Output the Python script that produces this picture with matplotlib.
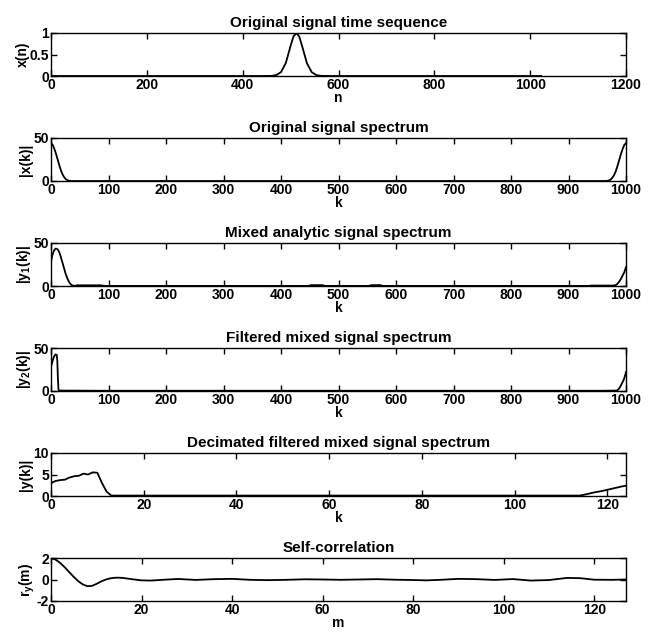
import matplotlib
matplotlib.use("Agg")
import matplotlib.pyplot as plt
from matplotlib import font_manager

names = {f.name for f in font_manager.fontManager.ttflist}
fam = 'Liberation Sans Narrow' if 'Liberation Sans Narrow' in names else 'Liberation Sans'
narrow = fam == 'Liberation Sans Narrow'
plt.rcParams['font.family'] = [fam, 'DejaVu Sans']
plt.rcParams['font.weight'] = 'bold'
plt.rcParams['axes.labelweight'] = 'bold'
plt.rcParams['axes.titleweight'] = 'bold'

# ---- data ----
n1 = [0, 440, 460, 470, 480, 490, 500, 506, 512, 518, 524, 534, 544, 554, 564, 584, 1023]
x1 = [0, 0, 0.003, 0.02, 0.09, 0.30, 0.70, 0.92, 1.0, 0.92, 0.70, 0.30, 0.09, 0.02, 0.003, 0, 0]

k2 = [0, 3, 6, 9, 12, 15, 18, 21, 24, 27, 30, 35, 40,
      960, 965, 970, 973, 976, 979, 982, 985, 988, 991, 994, 997, 1000]
x2 = [44, 42, 37, 31, 24, 17, 11, 6.5, 3.5, 1.5, 0.5, 0, 0,
      0, 0, 0.5, 1.5, 3.5, 6.5, 11, 17, 24, 31, 37, 42, 44]

k3 = [0, 2, 5, 8, 11, 14, 17, 20, 23, 26, 29, 32, 35, 38, 42, 45, 88, 92,
      448, 452, 472, 476, 553, 557, 573, 577, 935, 940, 978, 982, 985, 988, 991, 994, 997, 1000]
y3 = [28, 35, 41, 43.5, 43, 40, 34, 27, 20, 13, 8, 4, 1.5, 0.5, 0.2, 0.8, 0.8, 0.1,
      0.1, 1.0, 1.0, 0.1, 0.1, 1.0, 1.0, 0.1, 0.1, 0.5, 0.5, 1.0, 2.5, 5, 8, 12, 16, 22]

k4 = [0, 2, 4, 6, 8, 10, 11, 12, 13, 14, 80, 960, 984, 987, 990, 993, 996, 998, 1000]
y4 = [28, 33, 38, 41, 42.5, 42, 35, 15, 2, 0.5, 0.3, 0.3, 0.5, 2, 5, 9, 13, 17, 22]

k5 = [0, 1, 2, 3, 4, 5, 6, 7, 8, 9, 10, 11, 12, 13, 114, 115, 117, 119, 121, 123, 124, 125]
y5 = [3.0, 3.5, 3.7, 3.8, 4.3, 4.6, 4.7, 5.2, 5.0, 5.5, 5.4, 3.0, 1.0, 0.1, 0.1, 0.3, 0.8, 1.2, 1.7, 2.2, 2.4, 2.5]

m6 = [0, 1, 2, 3, 4, 5, 6, 7, 8, 9, 10, 11, 12, 13, 14, 15, 16, 18, 20, 22, 25, 28, 32, 36, 40,
      44, 48, 52, 56, 60, 64, 68, 72, 76, 80, 83, 86, 90, 94, 98, 102, 106, 110, 114, 117, 120, 124, 127]
r6 = [2.0, 1.85, 1.55, 1.15, 0.7, 0.25, -0.15, -0.45, -0.62, -0.6, -0.42, -0.2, -0.02, 0.1, 0.16, 0.17,
      0.14, 0.02, -0.08, -0.1, -0.02, 0.05, -0.04, 0.03, 0.06, -0.03, -0.06, -0.03, 0.02, 0.0, -0.03, 0.0,
      0.03, -0.02, -0.05, -0.08, -0.03, 0.06, 0.03, -0.04, 0.04, -0.1, -0.05, 0.15, 0.12, -0.02, -0.03, 0.0]

titles = ["Original signal time sequence", "Original signal spectrum", "Mixed analytic signal spectrum",
          "Filtered mixed signal spectrum", "Decimated filtered mixed signal spectrum", "Self-correlation"]
xlabels = ["n", "k", "k", "k", "k", "m"]
ylabels = ["x(n)", "|x(k)|", r"|y$_1$(k)|", r"|y$_2$(k)|", "|y(k)|", r"r$_y$(m)"]
xlims = [(0, 1200), (0, 1000), (0, 1000), (0, 1000), (0, 124), (0, 127)]
ylims = [(0, 1), (0, 50), (0, 50), (0, 50), (0, 10), (-2, 2)]
xticks = [list(range(0, 1201, 200)), list(range(0, 1001, 100)), list(range(0, 1001, 100)),
          list(range(0, 1001, 100)), list(range(0, 121, 20)), list(range(0, 121, 20))]
yticks = [[0, 0.5, 1], [0, 50], [0, 50], [0, 50], [0, 5, 10], [-2, 0, 2]]
ytl = [["0", "0.5", "1"], ["0", "50"], ["0", "50"], ["0", "50"], ["0", "5", "10"], ["-2", "0", "2"]]
series = [(n1, x1), (k2, x2), (k3, y3), (k4, y4), (k5, y5), (m6, r6)]

tsize = 12.5 if narrow else 11
lsize = 12 if narrow else 10

plt.rcParams['mathtext.fontset'] = 'custom'
plt.rcParams['mathtext.rm'] = fam + ':bold'
plt.rcParams['mathtext.it'] = fam + ':bold'
plt.rcParams['mathtext.bf'] = fam + ':bold'

fig = plt.figure(figsize=(6.5, 6.32), dpi=100)
W, H = 650, 632
tops = [33, 138, 243, 348, 453, 558]
left, right, h = 51, 626, 43
for i in range(6):
    ax = fig.add_axes([left / W, (H - tops[i] - h) / H, (right - left) / W, h / H])
    xs, ys = series[i]
    ax.plot(xs, ys, color='black', linewidth=1.3)
    ax.set_xlim(*xlims[i])
    ax.set_ylim(*ylims[i])
    ax.set_xticks(xticks[i])
    ax.set_yticks(yticks[i])
    ax.set_yticklabels(ytl[i])
    ax.tick_params(direction='in', length=4, width=1, top=True, right=True,
                   labelsize=lsize, pad=1.5)
    for lab in ax.get_xticklabels() + ax.get_yticklabels():
        lab.set_fontweight('bold')
    for s in ax.spines.values():
        s.set_linewidth(1.0)
    ax.set_title(titles[i], fontsize=tsize, fontweight='bold', pad=4)
    ax.set_xlabel(xlabels[i], fontsize=lsize, fontweight='bold', labelpad=-1)
    ax.set_ylabel(ylabels[i], fontsize=lsize, fontweight='bold', labelpad=0)

fig.savefig("out.png", dpi=100)
